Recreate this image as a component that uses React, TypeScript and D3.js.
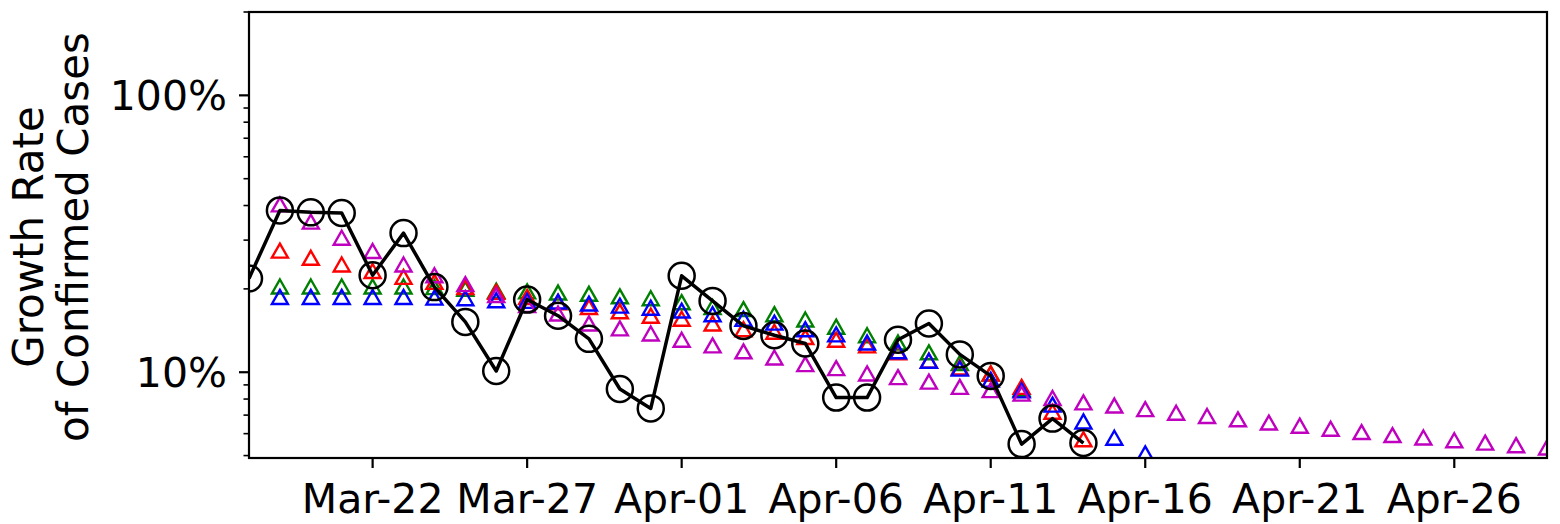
import React from 'react';
import * as d3 from 'd3';

// Category axis: one label per day
const days = [
  'Mar-18', 'Mar-19', 'Mar-20', 'Mar-21', 'Mar-22', 'Mar-23', 'Mar-24', 'Mar-25', 'Mar-26', 'Mar-27',
  'Mar-28', 'Mar-29', 'Mar-30', 'Mar-31', 'Apr-01', 'Apr-02', 'Apr-03', 'Apr-04', 'Apr-05', 'Apr-06',
  'Apr-07', 'Apr-08', 'Apr-09', 'Apr-10', 'Apr-11', 'Apr-12', 'Apr-13', 'Apr-14', 'Apr-15', 'Apr-16',
  'Apr-17', 'Apr-18', 'Apr-19', 'Apr-20', 'Apr-21', 'Apr-22', 'Apr-23', 'Apr-24', 'Apr-25', 'Apr-26',
  'Apr-27', 'Apr-28', 'Apr-29',
];
const xTickLabels = ['Mar-22', 'Mar-27', 'Apr-01', 'Apr-06', 'Apr-11', 'Apr-16', 'Apr-21', 'Apr-26'];
const yTickValues = [0.1, 1];
const yTickLabels = ['10%', '100%'];

// Observed growth rate (black circles + line), from Mar-18
const observedStart = 'Mar-18';
const observed = [
  0.218, 0.384, 0.378, 0.376, 0.224, 0.318, 0.203, 0.152, 0.101, 0.183, 0.160, 0.132, 0.087, 0.074,
  0.223, 0.181, 0.147, 0.136, 0.127, 0.081, 0.081, 0.131, 0.150, 0.116, 0.097, 0.055, 0.068, 0.0555,
];

// Model series (hollow triangles), each from Mar-19
const magentaStart = 'Mar-19';
const magenta = [
  0.404, 0.350, 0.306, 0.274, 0.245, 0.224, 0.208, 0.190, 0.175, 0.163, 0.150, 0.144, 0.138,
  0.131, 0.125, 0.119, 0.113, 0.107, 0.1035, 0.099, 0.096, 0.0925, 0.0885, 0.0862, 0.0837, 0.0807,
  0.0778, 0.0758, 0.0736, 0.0714, 0.0695, 0.0676, 0.0658, 0.0641, 0.0625, 0.0608, 0.0593, 0.0581,
  0.0568, 0.0557, 0.0545, 0.0535,
];
const redStart = 'Mar-19';
const red = [
  0.275, 0.259, 0.245, 0.232, 0.221, 0.212, 0.203, 0.195, 0.187, 0.179, 0.172, 0.166, 0.160,
  0.156, 0.150, 0.143, 0.140, 0.134, 0.131, 0.125, 0.118, 0.110, 0.104, 0.099, 0.0885, 0.072, 0.0573,
];
const greenStart = 'Mar-19';
const green = [
  0.204, 0.204, 0.204, 0.204, 0.204, 0.203, 0.200, 0.197, 0.196, 0.194, 0.192, 0.188, 0.185,
  0.179, 0.172, 0.169, 0.162, 0.155, 0.146, 0.136, 0.128, 0.118, 0.108, 0.099, 0.087,
];
const blueStart = 'Mar-19';
const blue = [
  0.187, 0.187, 0.187, 0.187, 0.187, 0.186, 0.185, 0.182, 0.181, 0.180, 0.177, 0.174, 0.171,
  0.167, 0.162, 0.156, 0.151, 0.143, 0.137, 0.128, 0.119, 0.110, 0.103, 0.094, 0.086, 0.0764,
  0.0664, 0.058, 0.0509,
];

const parse = d3.timeParse('%Y-%b-%d');
const toDate = (s: string) => parse('2020-' + s) as Date;

function pts(start: string, vals: number[]) {
  const i0 = days.indexOf(start);
  return vals.map((v, i) => ({ d: toDate(days[i0 + i]), v }));
}

const W = 1560;
const H = 524;
const L = 249;
const R = 1547;
const T = 12;
const B = 458;
const FONT = '"DejaVu Sans", Verdana, sans-serif';

export default function App() {
  const x = d3.scaleTime().domain([toDate(days[0]), toDate(days[days.length - 1])]).range([L, R]);
  const y = d3.scaleLog().domain([0.049, 2]).range([B, T]);

  const obs = pts(observedStart, observed);
  const tri = [
    { color: '#008000', p: pts(greenStart, green) },
    { color: '#ff0000', p: pts(redStart, red) },
    { color: '#0000ff', p: pts(blueStart, blue) },
    { color: '#bf00bf', p: pts(magentaStart, magenta) },
  ];

  const line = d3.line<{ d: Date; v: number }>().x((p) => x(p.d)).y((p) => y(p.v));

  // minor log ticks
  const minor: number[] = [];
  [0.01, 0.1, 1].forEach((dec) => {
    for (let k = 2; k <= 9; k++) {
      const v = dec * k;
      if (v >= 0.049 && v <= 2.0001) minor.push(v);
    }
  });

  const triPath = 'M0,-7L8,7L-8,7Z';

  return (
    <svg width={W} height={H} style={{ position: 'absolute', left: 0, top: 0, background: '#fff' }} fontFamily={FONT}>
      <defs>
        <clipPath id="plotclip">
          <rect x={L} y={T} width={R - L} height={B - T} />
        </clipPath>
      </defs>
      <rect x={0} y={0} width={W} height={H} fill="#fff" />

      <g clipPath="url(#plotclip)">
        {tri.map((s, si) => (
          <g key={si}>
            {s.p.map((p, i) => (
              <path
                key={i}
                d={triPath}
                transform={`translate(${x(p.d)},${y(p.v)})`}
                fill="none"
                stroke={s.color}
                strokeWidth={2.4}
              />
            ))}
          </g>
        ))}
        <path d={line(obs) || ''} fill="none" stroke="#000" strokeWidth={3.5} strokeLinejoin="round" />
        {obs.map((p, i) => (
          <circle key={i} cx={x(p.d)} cy={y(p.v)} r={13} fill="none" stroke="#000" strokeWidth={2.5} />
        ))}
      </g>

      {/* spines */}
      <rect x={L} y={T} width={R - L} height={B - T} fill="none" stroke="#000" strokeWidth={2.2} />

      {/* y ticks */}
      {minor.map((v, i) => (
        <line key={'m' + i} x1={L - 5.5} x2={L} y1={y(v)} y2={y(v)} stroke="#000" strokeWidth={1.6} />
      ))}
      {yTickValues.map((v, i) => (
        <g key={'y' + i}>
          <line x1={L - 10} x2={L} y1={y(v)} y2={y(v)} stroke="#000" strokeWidth={2.2} />
          <text x={L - 22} y={y(v) + 15} textAnchor="end" fontSize={41} fill="#000">
            {yTickLabels[i]}
          </text>
        </g>
      ))}

      {/* x ticks */}
      {xTickLabels.map((lab, i) => {
        const xx = x(toDate(lab));
        return (
          <g key={'x' + i}>
            <line x1={xx} x2={xx} y1={B} y2={B + 10} stroke="#000" strokeWidth={2.2} />
            <text x={xx} y={513} textAnchor="middle" fontSize={41} fill="#000">
              {lab}
            </text>
          </g>
        );
      })}

      {/* y label */}
      <g transform={`translate(0,${(T + B) / 2 + 2}) rotate(-90)`}>
        <text x={0} y={43} textAnchor="middle" fontSize={42} fill="#000">
          Growth Rate
        </text>
        <text x={0} y={88} textAnchor="middle" fontSize={42} fill="#000">
          of Confirmed Cases
        </text>
      </g>
    </svg>
  );
}
